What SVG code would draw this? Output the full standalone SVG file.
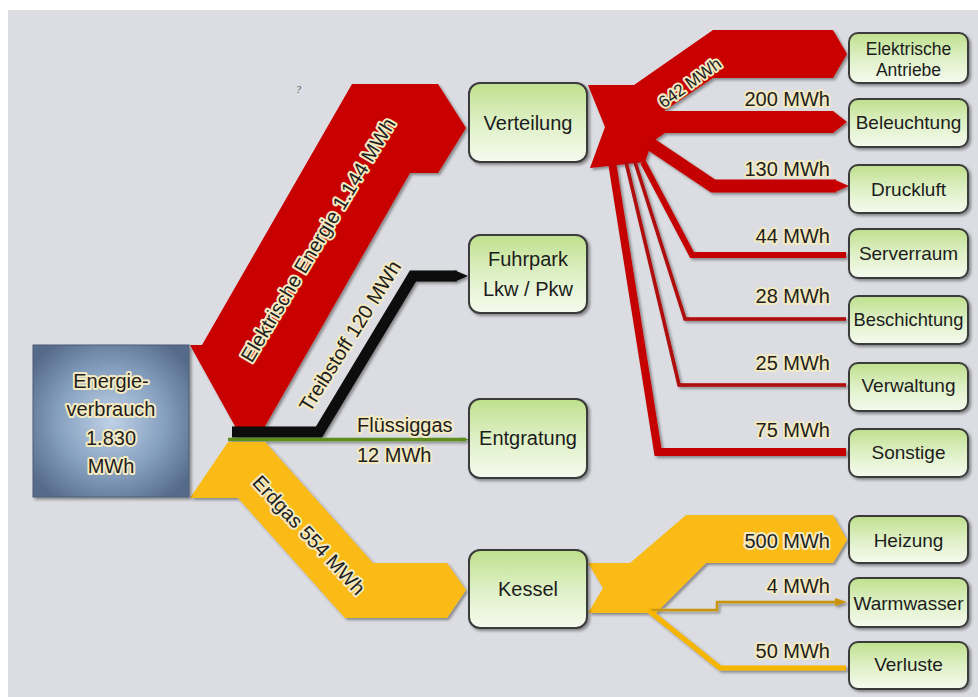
<svg xmlns="http://www.w3.org/2000/svg" width="978" height="697" viewBox="0 0 978 697">
<defs>
  <linearGradient id="gBox" x1="0" y1="0" x2="0" y2="1">
    <stop offset="0" stop-color="#bfe08d"/>
    <stop offset="0.5" stop-color="#def0c6"/>
    <stop offset="1" stop-color="#f6fbef"/>
  </linearGradient>
  <radialGradient id="gMain" cx="0.5" cy="0.5" r="0.62">
    <stop offset="0" stop-color="#bfd1e7"/>
    <stop offset="0.55" stop-color="#86a0bf"/>
    <stop offset="1" stop-color="#566b89"/>
  </radialGradient>
  <filter id="sh" x="-10%" y="-10%" width="130%" height="130%">
    <feDropShadow dx="2" dy="2" stdDeviation="1.4" flood-color="#000" flood-opacity="0.4"/>
  </filter>
</defs>
<style>
  .node rect{fill:url(#gBox);stroke:#3a3a3a;stroke-width:2;filter:url(#sh)}
  .nt{font-family:"Liberation Sans",Arial,sans-serif;font-size:20px;fill:#1c1c1c;text-anchor:middle}
  .rt{font-size:19px}
  .lbl{font-family:"Liberation Sans",Arial,sans-serif;font-size:20px;fill:#1e1e1e;stroke:#f3eac2;stroke-width:4;stroke-linejoin:round;paint-order:stroke}
  .end{text-anchor:end}
  .mid{text-anchor:middle;dominant-baseline:central}
  .red{fill:#c80000}
  .yel{fill:#fbbb18}
  .rl{fill:none;stroke:#c40000;stroke-linejoin:miter}
  .flows{filter:url(#sh)}
</style>

<rect x="0" y="0" width="978" height="697" fill="#ffffff"/>
<rect x="8" y="10" width="970" height="687" fill="#dcdde2"/>

<text x="296" y="93" font-family="Liberation Serif,serif" font-size="10" font-style="italic" fill="#555">?</text>

<g id="connectors">
  <g class="flows">
    <!-- Elektrische Energie -->
    <polygon class="red" points="352,84 438,84 466,128 438,173 410,173 264,428 236,428 190,345 202,345"/>
    <!-- Treibstoff -->
    <polyline points="232,432 319,432 413,276 457,276" fill="none" stroke="#0a0a0a" stroke-width="11" stroke-linejoin="miter"/>
    <polygon points="455,270.5 468,276 455,281.5" fill="#0a0a0a"/>
    <!-- Fluessiggas -->
    <polyline points="228,439.5 466,439.5" fill="none" stroke="#5e8e1e" stroke-width="3.5"/>
    <polygon points="462,437.5 469,439.5 462,441.5" fill="#5e8e1e"/>
    <!-- Erdgas -->
    <polygon class="yel" points="228,442 265,442 373,563 447,563 466,590 447,618 345,618 238,498 190,498"/>

    <!-- Verteilung distribution -->
    <polygon class="red" points="588,85 634,85 713,30 833,30 847,54 833,78 713,78 664,111 833,111 847,122 833,133 665,133 652,142 645,162 590,168 605,127"/>
    <polyline class="rl" points="646,141 713,186 836,186" stroke-width="13"/>
    <polygon class="red" points="834,179.5 849,186 834,192.5"/>
    <polyline class="rl" points="643,162 692,255 846,255" stroke-width="6"/>
    <polyline class="rl" points="635,162 685,319 846,319" stroke-width="3.5" style="stroke:#b00808"/>
    <polyline class="rl" points="626,162 679,385 846,385" stroke-width="3.5" style="stroke:#b00808"/>
    <polyline class="rl" points="612,162 658,452 846,452" stroke-width="8"/>

    <!-- Kessel distribution -->
    <polygon class="yel" points="588,563 630,563 686,515 833,515 847,540 833,563 706,563 656,613 588,613 603,588"/>
    <polyline points="650,610 717,610 717,602 837,602" fill="none" stroke="#c8950c" stroke-width="2.5"/>
    <polygon points="835,598 847,602 835,606" fill="#c8950c"/>
    <polyline points="648,610 720,668 846,668" fill="none" stroke="#f6b500" stroke-width="5" stroke-linejoin="miter"/>
  </g>

  <!-- flow labels -->
  <text class="lbl mid" transform="translate(318,240) rotate(-59)">Elektrische Energie 1.144 MWh</text>
  <text class="lbl mid" transform="translate(350,336) rotate(-58)">Treibstoff 120 MWh</text>
  <text class="lbl mid" transform="translate(309,535) rotate(47)">Erdgas 554 MWh</text>
  <text class="lbl" x="357" y="432">Flüssiggas</text>
  <text class="lbl" x="357" y="462">12 MWh</text>
  <text class="lbl mid" style="font-size:17px" transform="translate(690,83) rotate(-36)">642 MWh</text>
  <text class="lbl end" x="830" y="106">200 MWh</text>
  <text class="lbl end" x="830" y="176">130 MWh</text>
  <text class="lbl end" x="830" y="243">44 MWh</text>
  <text class="lbl end" x="830" y="303">28 MWh</text>
  <text class="lbl end" x="830" y="370">25 MWh</text>
  <text class="lbl end" x="830" y="437">75 MWh</text>
  <text class="lbl end" x="830" y="548">500 MWh</text>
  <text class="lbl end" x="830" y="593">4 MWh</text>
  <text class="lbl end" x="830" y="658">50 MWh</text>
</g>

<g id="energieverbrauch">
  <rect x="33" y="345" width="156" height="152" fill="url(#gMain)" stroke="#4d5f78" stroke-width="1" filter="url(#sh)"/>
  <text class="lbl" text-anchor="middle" x="111" y="388">Energie-</text>
  <text class="lbl" text-anchor="middle" x="111" y="416">verbrauch</text>
  <text class="lbl" text-anchor="middle" x="111" y="445">1.830</text>
  <text class="lbl" text-anchor="middle" x="111" y="473">MWh</text>
</g>

<g id="verteilung" class="node">
  <rect x="469" y="83" width="118" height="79" rx="11"/>
  <text class="nt" x="528" y="130">Verteilung</text>
</g>
<g id="fuhrpark" class="node">
  <rect x="469" y="235" width="118" height="78" rx="11"/>
  <text class="nt" x="528" y="266">Fuhrpark</text>
  <text class="nt" x="528" y="296">Lkw / Pkw</text>
</g>
<g id="entgratung" class="node">
  <rect x="469" y="399" width="118" height="79" rx="11"/>
  <text class="nt" x="528" y="445">Entgratung</text>
</g>
<g id="kessel" class="node">
  <rect x="469" y="550" width="118" height="78" rx="11"/>
  <text class="nt" x="528" y="596">Kessel</text>
</g>

<g id="elektrische-antriebe" class="node">
  <rect x="849" y="33" width="119" height="50" rx="9"/>
  <text class="nt" style="font-size:17.5px" x="908.5" y="55">Elektrische</text>
  <text class="nt" style="font-size:17.5px" x="908.5" y="76">Antriebe</text>
</g>
<g id="beleuchtung" class="node">
  <rect x="849" y="99" width="119" height="48" rx="9"/>
  <text class="nt rt" x="908.5" y="129">Beleuchtung</text>
</g>
<g id="druckluft" class="node">
  <rect x="849" y="165" width="119" height="48" rx="9"/>
  <text class="nt rt" x="908.5" y="196">Druckluft</text>
</g>
<g id="serverraum" class="node">
  <rect x="849" y="229" width="119" height="49" rx="9"/>
  <text class="nt rt" x="908.5" y="260">Serverraum</text>
</g>
<g id="beschichtung" class="node">
  <rect x="849" y="296" width="119" height="48" rx="9"/>
  <text class="nt rt" x="908.5" y="326" textLength="110" lengthAdjust="spacingAndGlyphs">Beschichtung</text>
</g>
<g id="verwaltung" class="node">
  <rect x="849" y="363" width="119" height="48" rx="9"/>
  <text class="nt rt" x="908.5" y="392">Verwaltung</text>
</g>
<g id="sonstige" class="node">
  <rect x="849" y="429" width="119" height="48" rx="9"/>
  <text class="nt rt" x="908.5" y="459">Sonstige</text>
</g>
<g id="heizung" class="node">
  <rect x="849" y="516" width="119" height="47" rx="9"/>
  <text class="nt rt" x="908.5" y="547">Heizung</text>
</g>
<g id="warmwasser" class="node">
  <rect x="849" y="578" width="119" height="49" rx="9"/>
  <text class="nt rt" x="908.5" y="610" textLength="110" lengthAdjust="spacingAndGlyphs">Warmwasser</text>
</g>
<g id="verluste" class="node">
  <rect x="849" y="642" width="119" height="47" rx="9"/>
  <text class="nt rt" x="908.5" y="671">Verluste</text>
</g>
</svg>
